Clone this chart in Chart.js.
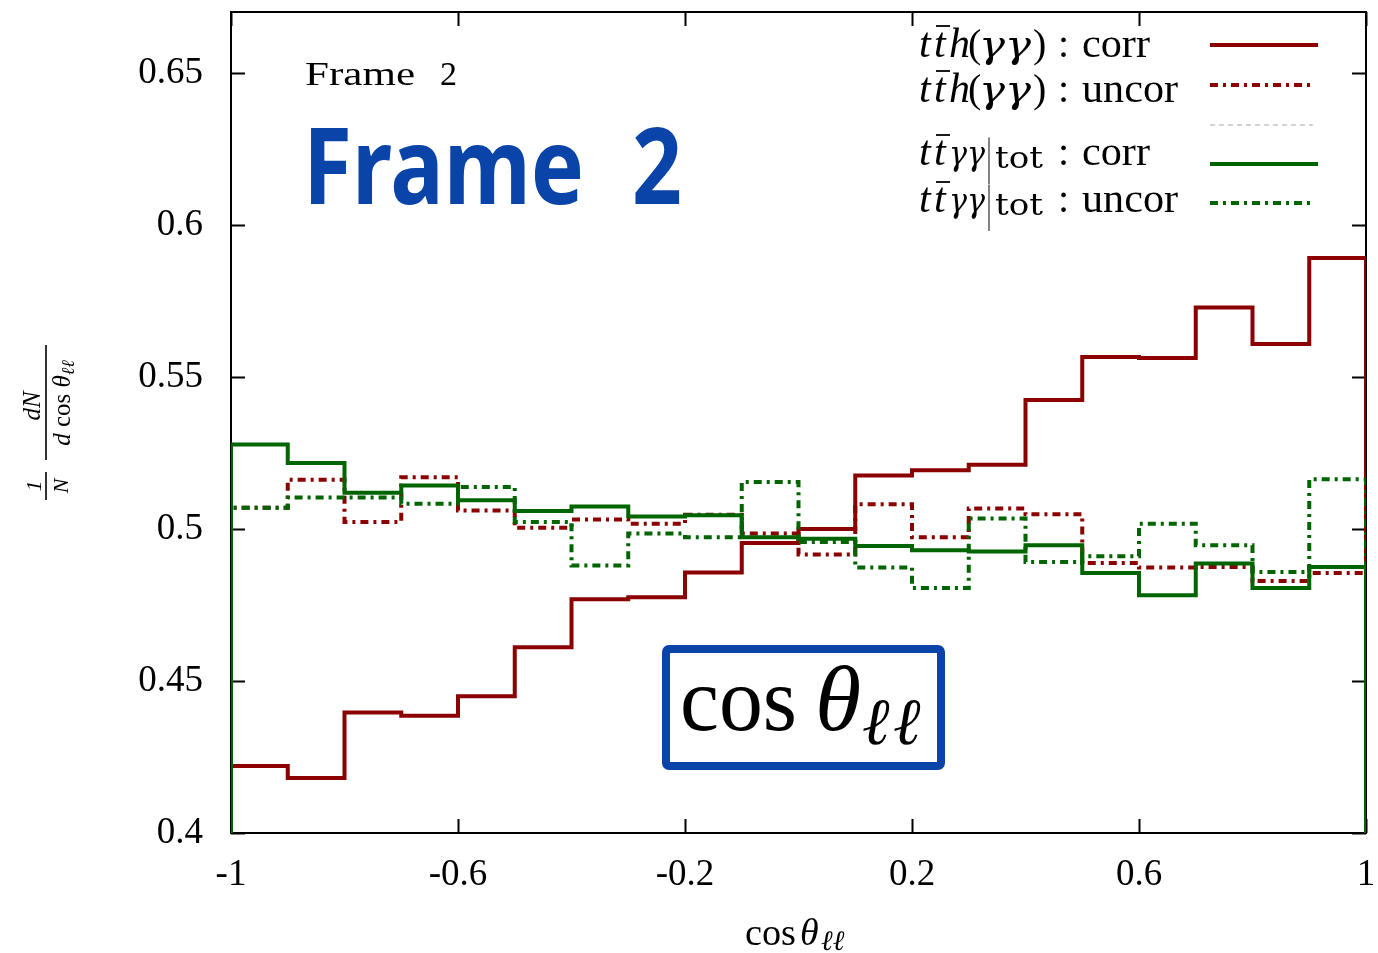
<!DOCTYPE html>
<html><head><meta charset="utf-8">
<script src="https://cdn.jsdelivr.net/npm/chart.js@4/dist/chart.umd.min.js"></script>
<style>html,body{margin:0;padding:0;background:#fff;} #wrap{width:1378px;height:953px;}</style>
</head><body><div id="wrap"><canvas id="c" width="1378" height="953"></canvas></div>
<script>
// ---- data (bin edges = categories) ----
const binEdges = [-1.0,-0.9,-0.8,-0.7,-0.6,-0.5,-0.4,-0.3,-0.2,-0.1,0.0,0.1,0.2,0.3,0.4,0.5,0.6,0.7,0.8,0.9,1.0];
const tthCorr   = [0.4220,0.4181,0.4396,0.4386,0.4450,0.4611,0.4769,0.4775,0.4857,0.4954,0.5000,0.5176,0.5193,0.5211,0.5424,0.5565,0.5562,0.5728,0.5608,0.5891];
const tthUncor  = [0.5070,0.5162,0.5023,0.5170,0.5061,0.5004,0.5031,0.5017,0.5047,0.4985,0.4916,0.5081,0.4973,0.5067,0.5048,0.4888,0.4873,0.4875,0.4829,0.4855];
const ttaaCorr  = [0.5278,0.5217,0.5119,0.5143,0.5094,0.5059,0.5074,0.5041,0.5045,0.4973,0.4968,0.4944,0.4930,0.4926,0.4946,0.4855,0.4782,0.4886,0.4806,0.4875];
const ttaaUncor = [0.5070,0.5103,0.5103,0.5083,0.5138,0.5023,0.4880,0.4985,0.4973,0.5154,0.4957,0.4873,0.4806,0.5034,0.4891,0.4910,0.5017,0.4946,0.4858,0.5163];
const xTicks = [-1, -0.6, -0.2, 0.2, 0.6, 1];
const yTicks = [0.4, 0.45, 0.5, 0.55, 0.6, 0.65];
const yMin = 0.4, yMax = 0.67;

const SERIF = "'Liberation Serif', 'DejaVu Serif', serif";
const DJ = "'DejaVu Serif', 'Liberation Serif', serif";
const RED = '#8b0000', GREEN = '#006400', BLUE = '#0a44a8';
const DASH = [8, 5, 3, 5];

function stepPoints(vals) {
  const last = binEdges[binEdges.length - 1];
  const pts = [{x: binEdges[0], y: yMin}];
  vals.forEach((v, i) => pts.push({x: binEdges[i], y: v}));
  pts.push({x: last, y: vals[vals.length - 1]});
  pts.push({x: last, y: yMin});
  return pts;
}

function F(size, italic) { return (italic ? 'italic ' : '') + size + 'px ' + SERIF; }
function runsWidth(ctx, runs) {
  let w = 0;
  for (const r of runs) { ctx.font = F(r.s, r.i); w += ctx.measureText(r.t).width; }
  return w;
}
function drawRuns(ctx, x, y, runs) {
  ctx.textAlign = 'left'; ctx.textBaseline = 'alphabetic';
  for (const r of runs) {
    ctx.font = F(r.s, r.i);
    ctx.fillText(r.t, x, y + (r.dy || 0));
    x += ctx.measureText(r.t).width;
  }
  return x;
}
function fitText(ctx, text, x0, x1, y, font) {
  ctx.font = font; ctx.textAlign = 'left'; ctx.textBaseline = 'alphabetic';
  const w = ctx.measureText(text).width;
  ctx.save(); ctx.translate(x0, y); ctx.scale((x1 - x0) / w, 1); ctx.fillText(text, 0, 0); ctx.restore();
}
function put(ctx, text, x, y, font) {
  ctx.font = font; ctx.textAlign = 'left'; ctx.textBaseline = 'alphabetic';
  ctx.fillText(text, x, y);
}
function macron(ctx, x0, x1, y) {
  ctx.save(); ctx.lineWidth = 1.8; ctx.strokeStyle = '#000';
  ctx.beginPath(); ctx.moveTo(x0, y); ctx.lineTo(x1, y); ctx.stroke(); ctx.restore();
}

const framePlugin = {
  id: 'frame',
  beforeDatasetsDraw(chart) {
    const {ctx, chartArea: a, scales} = chart;
    ctx.save();
    ctx.strokeStyle = '#000'; ctx.lineWidth = 2;
    ctx.strokeRect(a.left, a.top, a.right - a.left, a.bottom - a.top);
    ctx.beginPath();
    for (const v of yTicks) {
      const p = Math.round(scales.y.getPixelForValue(v)) + 0.5;
      ctx.moveTo(a.left, p); ctx.lineTo(a.left + 14, p);
      ctx.moveTo(a.right, p); ctx.lineTo(a.right - 14, p);
    }
    for (const v of xTicks) {
      const p = Math.round(scales.x.getPixelForValue(v)) + 0.5;
      ctx.moveTo(p, a.bottom); ctx.lineTo(p, a.bottom - 14);
      ctx.moveTo(p, a.top); ctx.lineTo(p, a.top + 14);
    }
    ctx.stroke();
    ctx.restore();
  },
  afterDraw(chart) {
    const {ctx} = chart;
    const ds = chart.data.datasets;
    ctx.save();
    ctx.fillStyle = '#000';

    // ---- legend ----
    const LF = F(40, 0), LFI = F(42, 1), GF = 'italic 38px ' + DJ;
    const rowsA = [[57, 'corr', 1150], [102, 'uncor', 1178]];
    for (const [by, word, xe] of rowsA) {
      put(ctx, 't', 919, by, LFI);
      put(ctx, 't', 934, by, LFI);
      macron(ctx, 936, 950, by - 31);
      put(ctx, 'h', 949, by, LFI);
      put(ctx, '(', 968, by, LF);
      fitText(ctx, 'γγ', 979, 1031, by, GF);
      put(ctx, ')', 1033, by, LF);
      put(ctx, ':', 1058, by, LF);
      fitText(ctx, word, 1082, xe, by, LF);
    }
    const rowsB = [[165, 'corr', 1150], [212, 'uncor', 1178]];
    for (const [by, word, xe] of rowsB) {
      put(ctx, 't', 919, by, LFI);
      put(ctx, 't', 934, by, LFI);
      macron(ctx, 936, 950, by - 30);
      fitText(ctx, 'γγ', 949, 985, by, 'italic 34px ' + DJ);
      fitText(ctx, '|', 987, 991, by + 8, F(50, 0));
      fitText(ctx, 'tot', 995, 1043, by + 3, '30px ' + DJ);
      put(ctx, ':', 1058, by, LF);
      fitText(ctx, word, 1082, xe, by, LF);
    }
    const sampleY = [45, 85, 125, 164, 203];
    const sampleDs = [ds[0], ds[1], null, ds[2], ds[3]];
    sampleDs.forEach((d, k) => {
      ctx.save();
      ctx.beginPath();
      if (d) {
        ctx.strokeStyle = d.borderColor; ctx.lineWidth = d.borderWidth;
        ctx.setLineDash(d.borderDash || []);
        ctx.moveTo(1210, sampleY[k]); ctx.lineTo(d.borderDash ? 1313 : 1318, sampleY[k]);
      } else {
        ctx.strokeStyle = '#d4d4d4'; ctx.lineWidth = 2; ctx.setLineDash([5, 4]);
        ctx.moveTo(1210, sampleY[k]); ctx.lineTo(1313, sampleY[k]);
      }
      ctx.stroke(); ctx.restore();
    });

    // ---- "Frame 2" labels ----
    ctx.fillStyle = '#000';
    fitText(ctx, 'Frame', 305, 415, 85, F(34, 0));
    fitText(ctx, '2', 440, 457, 85, F(34, 0));
    ctx.fillStyle = BLUE;
    const BF = "bold 106px 'Noto Sans', 'DejaVu Sans', sans-serif";
    fitText(ctx, 'Frame', 303, 584, 204, BF);
    fitText(ctx, '2', 632, 682, 204, BF);

    // ---- boxed cos theta ----
    ctx.fillStyle = '#fff';
    ctx.strokeStyle = BLUE; ctx.lineWidth = 8;
    ctx.beginPath(); ctx.roundRect(666, 649, 275, 117, 3); ctx.fill(); ctx.stroke();
    ctx.fillStyle = '#000';
    fitText(ctx, 'cos', 680, 797, 730, F(92, 0));
    put(ctx, 'θ', 815, 730, F(94, 1));
    put(ctx, 'ℓ', 862, 744, F(66, 1));
    put(ctx, 'ℓ', 893, 744, F(66, 1));

    // ---- x axis title ----
    fitText(ctx, 'cos', 745, 796, 945, F(38, 0));
    put(ctx, 'θ', 800, 945, F(38, 1));
    put(ctx, 'ℓℓ', 821, 950, F(28, 1));

    // ---- y axis title (rotated fraction) ----
    ctx.save();
    ctx.translate(46, 420); ctx.rotate(-Math.PI / 2);
    ctx.strokeStyle = '#000'; ctx.lineWidth = 1.6;
    ctx.beginPath();
    ctx.moveTo(-80, 0); ctx.lineTo(-52, 0);
    ctx.moveTo(-40, 0); ctx.lineTo(75, 0);
    ctx.stroke();
    const c1 = [{t:'1', s:22, i:1}], c2 = [{t:'N', s:22, i:1}];
    drawRuns(ctx, -66 - runsWidth(ctx, c1) / 2, -5, c1);
    drawRuns(ctx, -66 - runsWidth(ctx, c2) / 2, 22, c2);
    const n = [{t:'dN', s:25, i:1}];
    drawRuns(ctx, 14 - runsWidth(ctx, n) / 2, -6, n);
    const den = [{t:'d', s:25, i:1}, {t:' cos ', s:25}, {t:'θ', s:25, i:1}, {t:'ℓℓ', s:18, i:1, dy:4}];
    drawRuns(ctx, 17 - runsWidth(ctx, den) / 2, 24, den);
    ctx.restore();

    ctx.restore();
  }
};

const lineDs = (label, vals, color, dash, order) => ({
  label, data: stepPoints(vals), borderColor: color, borderWidth: 4,
  borderDash: dash, borderCapStyle: 'butt', stepped: 'before',
  pointRadius: 0, fill: false, order
});

new Chart(document.getElementById('c').getContext('2d'), {
  type: 'line',
  data: {
    datasets: [
      lineDs('tt̄h(γγ) : corr', tthCorr, RED, undefined, 4),
      lineDs('tt̄h(γγ) : uncor', tthUncor, RED, DASH, 3),
      lineDs('tt̄γγ|tot : corr', ttaaCorr, GREEN, undefined, 2),
      lineDs('tt̄γγ|tot : uncor', ttaaUncor, GREEN, DASH, 1)
    ]
  },
  options: {
    responsive: false, animation: false, events: [],
    layout: {padding: {left: 0, top: 12, right: 12, bottom: 0}},
    plugins: {legend: {display: false}, tooltip: {enabled: false}, title: {display: false}},
    scales: {
      x: {
        type: 'linear', min: binEdges[0], max: binEdges[binEdges.length - 1],
        afterBuildTicks: s => { s.ticks = xTicks.map(v => ({value: v})); },
        afterFit: s => { s.height = 120; s.paddingLeft = 0; s.paddingRight = 0; s.paddingTop = 0; s.paddingBottom = 0; },
        grid: {display: false, drawTicks: false}, border: {display: false},
        ticks: {font: {family: SERIF, size: 37}, color: '#000', padding: 20, maxRotation: 0, autoSkip: false, callback: v => String(v)}
      },
      y: {
        type: 'linear', min: yMin, max: yMax,
        afterBuildTicks: s => { s.ticks = yTicks.map(v => ({value: v})); },
        afterFit: s => { s.width = 231; s.paddingLeft = 0; s.paddingRight = 0; s.paddingTop = 0; s.paddingBottom = 0; },
        grid: {display: false, drawTicks: false}, border: {display: false},
        ticks: {font: {family: SERIF, size: 37}, color: '#000', padding: 28, autoSkip: false, callback: v => String(v)}
      }
    }
  },
  plugins: [framePlugin]
});
</script>
</body></html>
